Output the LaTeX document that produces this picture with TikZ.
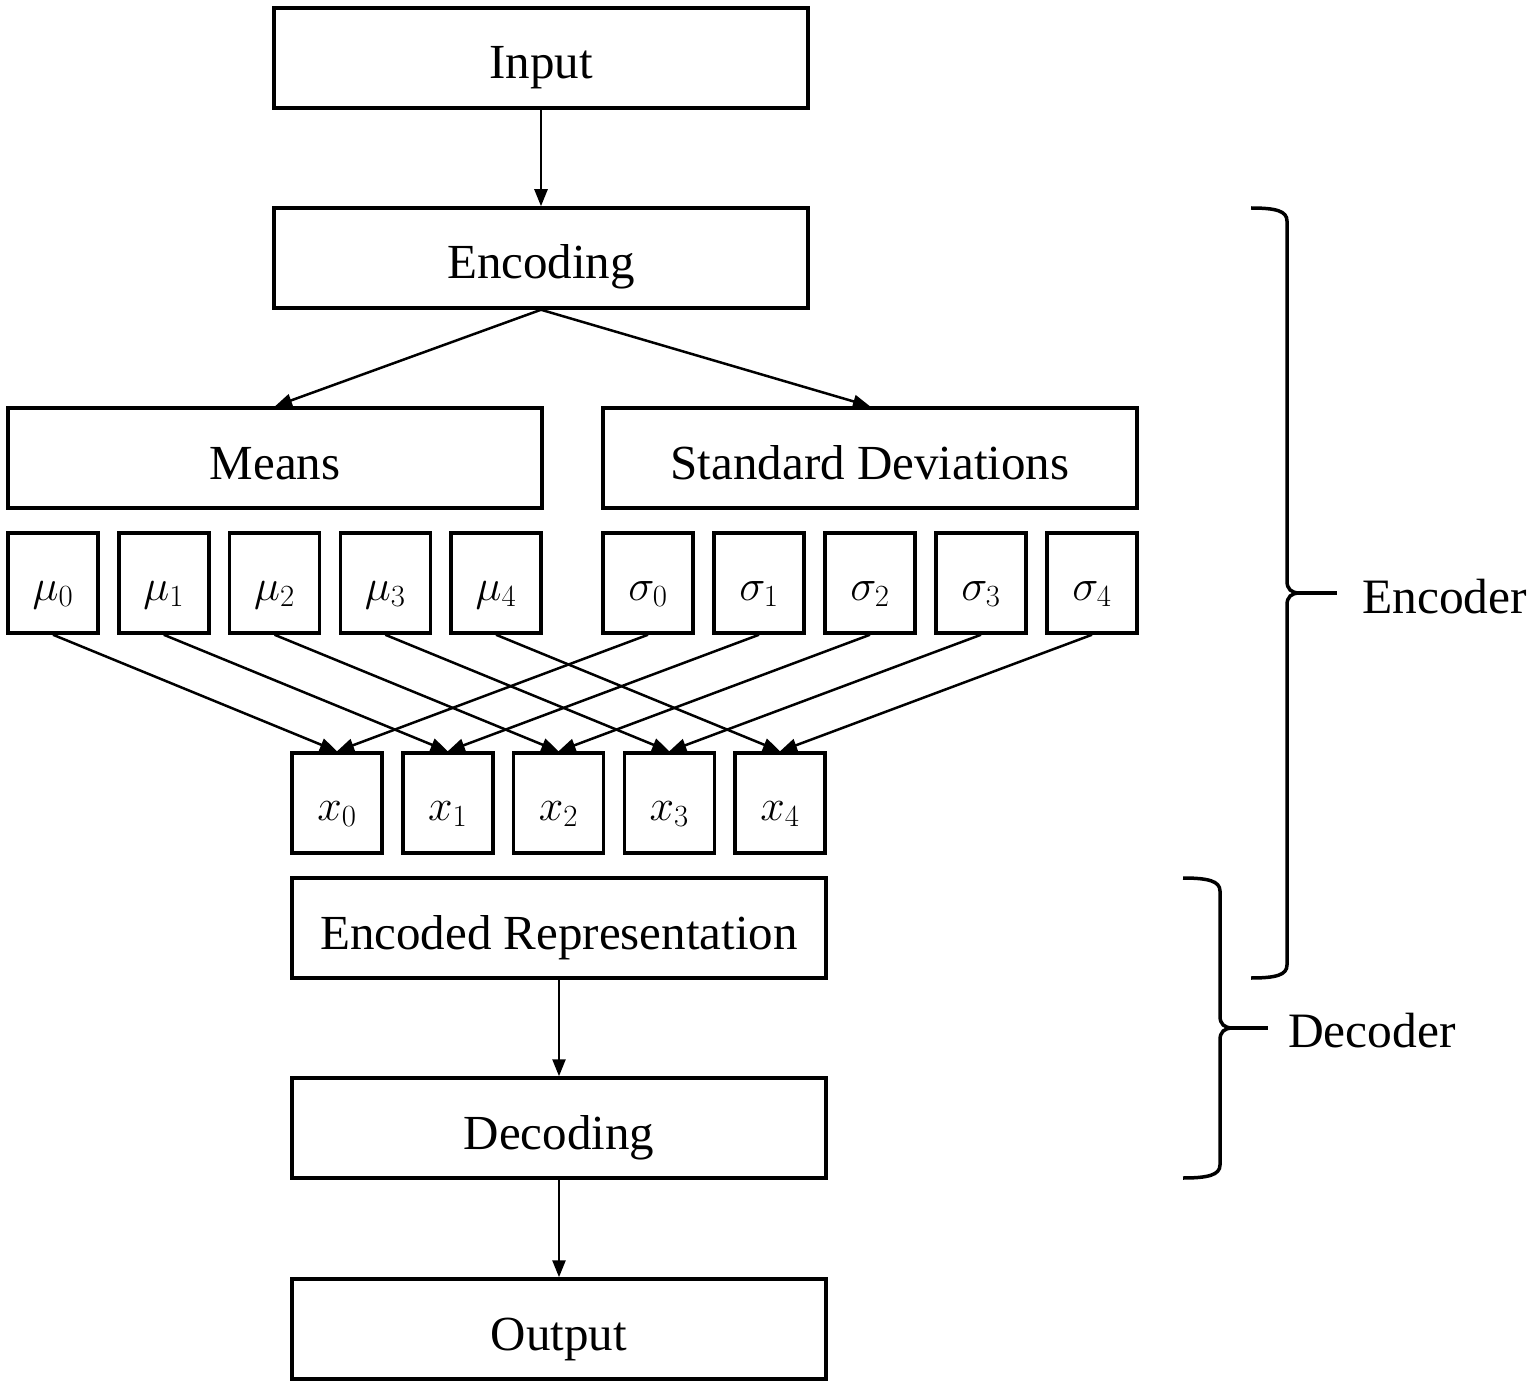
\documentclass[tikz,border=0pt]{standalone}
\usepackage{fix-cm}
\usepackage{fontspec}
\setmainfont{Liberation Serif}
\usetikzlibrary{arrows.meta}
\begin{document}
\begin{tikzpicture}[x=1pt,y=-1pt,
  box/.style={draw,line width=3.5pt,inner sep=0pt,minimum height=100pt,font=\fontsize{49}{58}\selectfont,text height=46pt,text depth=4pt},
  wide/.style={box,minimum width=534pt},
  small/.style={box,minimum width=90pt,font=\fontsize{44}{52}\selectfont,text height=36pt,text depth=2pt},
  conn/.style={line width=2.5pt,-{Triangle[length=17pt,width=13pt]}},
  brace/.style={line width=3.5pt},
  lab/.style={font=\fontsize{49.5}{58}\selectfont,anchor=west,inner sep=0pt}]
\useasboundingbox (0,0) rectangle (1535,1388);
\node[wide] (input) at (541,58) {Input};
\node[wide] (encoding) at (541,258) {Encoding};
\node[wide] (means) at (275,458) {Means};
\node[wide] (sd) at (870,458) {Standard Deviations};
\foreach \i in {0,...,4} {
  \node[small] (mu\i) at ({53+110.75*\i},583) {$\mu_\i$};
  \node[small] (sg\i) at ({648+111*\i},583) {$\sigma_\i$};
  \node[small] (x\i) at ({337+110.75*\i},803) {$x_\i$};
}
\node[wide] (enc) at (559,928) {Encoded Representation};
\node[wide] (dec) at (559,1128) {Decoding};
\node[wide] (out) at (559,1329) {Output};
\draw[conn] (input) -- (encoding);
\draw[conn] (encoding.south) -- (means.north);
\draw[conn] (encoding.south) -- (sd.north);
\foreach \i in {0,...,4} {
  \draw[conn] (mu\i.south) -- (x\i.north);
  \draw[conn] (sg\i.south) -- (x\i.north);
}
\draw[conn] (enc) -- (dec);
\draw[conn] (dec) -- (out);
% Encoder brace
\coordinate (et) at (1337,593);
\draw[brace] (1251,208) .. controls (1276,208) and (1287,211) .. (1287,221) -- (1287,581)
  .. controls (1287,589) and (1291,593) .. (1300,593)
  .. controls (1291,593) and (1287,597) .. (1287,605) -- (1287,965)
  .. controls (1287,975) and (1276,978) .. (1251,978);
\draw[brace] (1298,593) -- (et);
\node[lab] (enclab) at (1362,597) {Encoder};
% Decoder brace
\coordinate (dt) at (1268,1028);
\draw[brace] (1183,878) .. controls (1208,878) and (1220,881) .. (1220,891) -- (1220,1016)
  .. controls (1220,1024) and (1224,1028) .. (1233,1028)
  .. controls (1224,1028) and (1220,1032) .. (1220,1040) -- (1220,1165)
  .. controls (1220,1175) and (1208,1178) .. (1183,1178);
\draw[brace] (1231,1028) -- (dt);
\node[lab] (declab) at (1288,1031) {Decoder};
\end{tikzpicture}
\end{document}
